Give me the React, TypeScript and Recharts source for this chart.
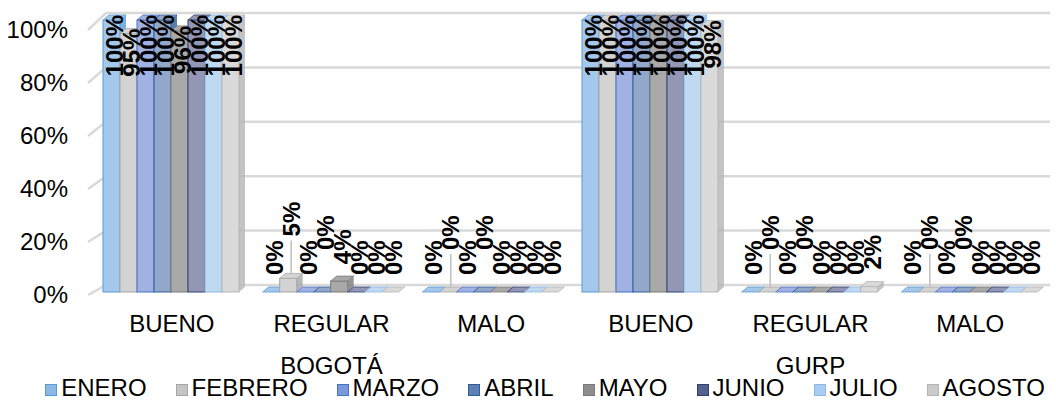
import { Bar, BarChart, CartesianGrid, LabelList, Legend, XAxis, YAxis } from "recharts";

// categories on the x axis and the region each belongs to
const CATEGORIES = ["BUENO", "REGULAR", "MALO", "BUENO", "REGULAR", "MALO"];
const REGIONS = ["BOGOTÁ", "BOGOTÁ", "BOGOTÁ", "GURP", "GURP", "GURP"];

// monthly shares per category
const ENERO = [1, 0, 0, 1, 0, 0];
const FEBRERO = [0.95, 0.05, 0, 1, 0, 0];
const MARZO = [1, 0, 0, 1, 0, 0];
const ABRIL = [1, 0, 0, 1, 0, 0];
const MAYO = [0.96, 0.04, 0, 1, 0, 0];
const JUNIO = [1, 0, 0, 1, 0, 0];
const JULIO = [1, 0, 0, 1, 0, 0];
const AGOSTO = [1, 0, 0, 0.98, 0.02, 0];

const Y_TICKS = [0, 0.2, 0.4, 0.6, 0.8, 1];

const SERIES = [
  { key: "ENERO", values: ENERO },
  { key: "FEBRERO", values: FEBRERO },
  { key: "MARZO", values: MARZO },
  { key: "ABRIL", values: ABRIL },
  { key: "MAYO", values: MAYO },
  { key: "JUNIO", values: JUNIO },
  { key: "JULIO", values: JULIO },
  { key: "AGOSTO", values: AGOSTO },
];

const COLORS = [
  { face: "#A3C8EC", edge: "#5B9BD5", key: "#8DB8E6" },
  { face: "#D3D3D3", edge: "#A6A6A6", key: "#C4C4C4" },
  { face: "#A2B1E4", edge: "#4472C4", key: "#7E98DC" },
  { face: "#92A7C9", edge: "#2F5E96", key: "#5C80B4" },
  { face: "#A9A9A9", edge: "#7A7A7A", key: "#8E8E8E" },
  { face: "#9397B5", edge: "#2E3F70", key: "#54608E" },
  { face: "#BFD9F1", edge: "#8CB8E4", key: "#A9CCF0" },
  { face: "#DADADA", edge: "#B5B5B5", key: "#CACACA" },
];

const data = CATEGORIES.map((cat, i) => {
  const row: Record<string, string | number> = { id: i, cat, region: REGIONS[i] };
  SERIES.forEach((s) => (row[s.key] = s.values[i]));
  return row;
});

const FONT = "'Liberation Sans', Arial, sans-serif";
const FS = 24;
const W = 1056;
const H = 400;
const PLOT_TOP = 20;
const PLOT_BOTTOM = 292;
const PLOT_LEFT = 92;
const DX = 6;
const DY = 5;

const pct = (v: number) => `${Math.round(v * 100)}%`;
// y-axis labels sit on the front plane of the 3d box
const frontY = (y: number) => 295 - ((PLOT_BOTTOM - y) * 265) / (PLOT_BOTTOM - PLOT_TOP);

function Box3D(props: any) {
  const { x, y, width, height, fill, edge } = props;
  if (x == null || y == null) return null;
  const w = width;
  const h = Math.max(height || 0, 0);
  return (
    <g>
      <polygon
        points={`${x + w},${y} ${x + w + DX},${y - DY} ${x + w + DX},${y + h - DY} ${x + w},${y + h}`}
        fill={edge}
        opacity={0.8}
      />
      {h > 0 && <rect x={x} y={y} width={w} height={h} fill={fill} stroke={edge} strokeWidth={1} />}
      <polygon
        points={`${x},${y} ${x + DX},${y - DY} ${x + w + DX},${y - DY} ${x + w},${y}`}
        fill={fill}
        stroke={edge}
        strokeWidth={0.8}
      />
    </g>
  );
}

function renderLabel(p: any, si: number) {
  const { x, y, width, value } = p;
  if (x == null || value == null) return null;
  const text = pct(Number(value));
  const len = FS * (0.556 * (text.length - 1) + 0.889);
  const cx = x + width / 2 + DX / 2;
  const stagger = si === 1 || si === 3 ? 25 : 0;
  const bottom = y - 17 - stagger;
  if (bottom - len < 13) {
    const top = Math.max(y - 5, 13);
    return (
      <text
        x={cx}
        y={top}
        transform={`rotate(-90 ${cx} ${top})`}
        textAnchor="end"
        dy="0.35em"
        fontFamily={FONT}
        fontWeight="bold"
        fontSize={FS}
        fill="#000"
      >
        {text}
      </text>
    );
  }
  return (
    <g>
      {si === 1 && (
        <line x1={cx} y1={y - DY} x2={cx} y2={bottom + 4} stroke="#BFBFBF" strokeWidth={1.5} />
      )}
      <text
        x={cx}
        y={bottom}
        transform={`rotate(-90 ${cx} ${bottom})`}
        textAnchor="start"
        dy="0.35em"
        fontFamily={FONT}
        fontWeight="bold"
        fontSize={FS}
        fill="#000"
      >
        {text}
      </text>
    </g>
  );
}

function GridLine(p: any) {
  const y = p.y1;
  const back = y - 7;
  return (
    <g key={p.key}>
      <line x1={p.x1 - 4} y1={frontY(y)} x2={p.x1 + 14} y2={back} stroke="#D9D9D9" strokeWidth={2.5} />
      <line x1={p.x1 + 14} y1={back} x2={p.x2} y2={back} stroke="#D9D9D9" strokeWidth={2.5} />
    </g>
  );
}

function YTick(p: any) {
  const { y, payload } = p;
  return (
    <text x={68} y={frontY(y)} dy="0.35em" textAnchor="end" fontFamily={FONT} fontSize={FS} fill="#000">
      {pct(payload.value)}
    </text>
  );
}

function XTick(p: any) {
  const { x, payload } = p;
  const i = Number(payload.value);
  return (
    <g>
      <text x={x} y={PLOT_BOTTOM + 40} textAnchor="middle" fontFamily={FONT} fontSize={FS} fill="#000">
        {CATEGORIES[i]}
      </text>
      {i % 3 === 1 && (
        <text x={x} y={PLOT_BOTTOM + 82} textAnchor="middle" fontFamily={FONT} fontSize={FS} fill="#000">
          {REGIONS[i]}
        </text>
      )}
    </g>
  );
}

function LegendContent() {
  return (
    <div
      style={{
        display: "flex",
        justifyContent: "center",
        gap: 29,
        height: 24,
        lineHeight: "24px",
        fontFamily: FONT,
        fontSize: FS,
        color: "#000",
        whiteSpace: "nowrap",
        paddingLeft: 34,
      }}
    >
      {SERIES.map((s, i) => (
        <div key={s.key} style={{ display: "flex", alignItems: "center" }}>
          <span
            style={{
              display: "inline-block",
              width: 10,
              height: 10,
              background: COLORS[i].key,
              border: `1px solid ${COLORS[i].edge}`,
              marginRight: 4,
              marginTop: 4,
            }}
          />
          {s.key}
        </div>
      ))}
    </div>
  );
}

export default function App() {
  return (
    <div style={{ position: "absolute", left: 0, top: 0, width: W, height: H, background: "#fff" }}>
      <BarChart
        width={W}
        height={H}
        data={data}
        margin={{ top: PLOT_TOP, right: 6, bottom: 0, left: 0 }}
        barCategoryGap={11}
        barGap={0}
      >
        <CartesianGrid vertical={false} horizontal={(p: any) => <GridLine {...p} />} />
        <XAxis dataKey="id" height={84} axisLine={false} tickLine={false} tick={(p: any) => <XTick {...p} />} interval={0} />
        <YAxis
          width={PLOT_LEFT}
          domain={[0, 1]}
          ticks={Y_TICKS}
          axisLine={false}
          tickLine={false}
          tick={(p: any) => <YTick {...p} />}
        />
        <Legend verticalAlign="bottom" content={() => <LegendContent />} wrapperStyle={{ left: 0, width: W }} />
        {SERIES.map((s, si) => (
          <Bar
            key={s.key}
            dataKey={s.key}
            fill={COLORS[si].face}
            isAnimationActive={false}
            shape={(p: any) => <Box3D {...p} edge={COLORS[si].edge} />}
          >
            <LabelList dataKey={s.key} content={(p: any) => renderLabel(p, si)} />
          </Bar>
        ))}
      </BarChart>
    </div>
  );
}
